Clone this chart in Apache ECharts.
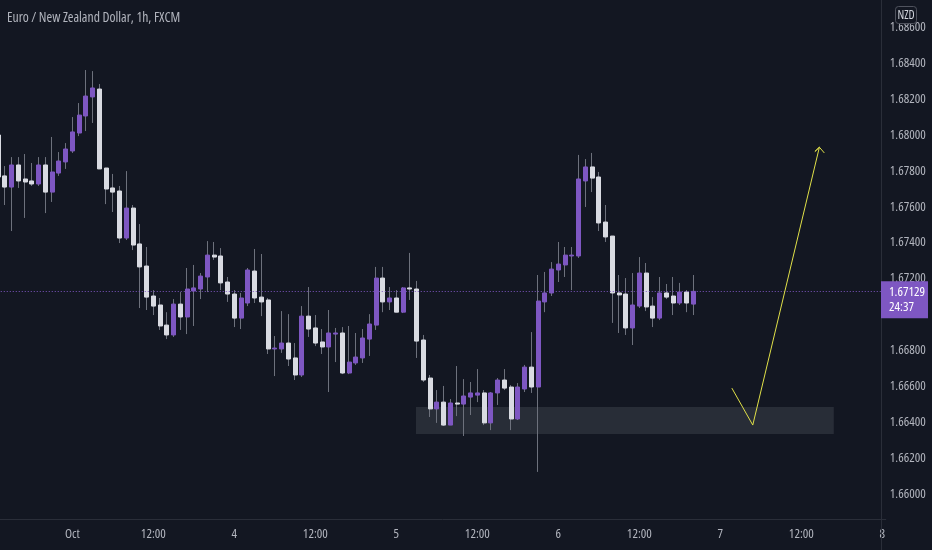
<!DOCTYPE html>
<html><head><meta charset="utf-8">
<script src="https://cdn.jsdelivr.net/npm/echarts@6/dist/echarts.min.js"></script>
<style>html,body{margin:0;padding:0;background:#131722;}#c{width:932px;height:550px;}</style>
</head><body><div id="c"></div>
<script>
const FONT = "'Open Sans','DejaVu Sans Condensed',sans-serif";
const STRETCH = 'condensed';
const titleText = 'Euro / New Zealand Dollar, 1h, FXCM';
const currency = 'NZD';
// hourly slots: first slot is Oct 2 13:00 (11 hours before Oct 3 00:00)
const firstHour = -11;
const slotCount = 132;
const categories = [];
for (let k = 0; k < slotCount; k++) {
  const h = k + firstHour;
  const day = 3 + Math.floor(h / 24);
  const hh = ((h % 24) + 24) % 24;
  categories.push('Oct ' + day + ' ' + String(hh).padStart(2, '0') + ':00');
}
const tickLabels = ['Oct','12:00','4','12:00','5','12:00','6','12:00','7','12:00','8'];

const opens = [1.68000,
1.67772,1.67710,1.67833,1.67755,1.67744,1.67727,1.67833,1.67682,1.67788,1.67850,
1.67911,1.68011,1.68106,1.68212,1.68256,1.67816,1.67705,1.67688,1.67426,1.67593,
1.67393,1.67270,1.67103,1.67053,1.66941,1.66886,1.67058,1.66986,1.67131,1.67142,
1.67209,1.67331,1.67326,1.67181,1.67114,1.66980,1.67064,1.67242,1.67097,1.67081,
1.66808,1.66808,1.66841,1.66758,1.66663,1.66991,1.66925,1.66847,1.66819,1.66891,
1.66897,1.66674,1.66730,1.66758,1.66863,1.66941,1.67203,1.67070,1.67092,1.67013,
1.67148,1.67142,1.66858,1.66646,1.66474,1.66512,1.66384,1.66507,1.66501,1.66540,
1.66551,1.66563,1.66396,1.66563,1.66635,1.66596,1.66418,1.66585,1.66707,1.66596,
1.67070,1.67120,1.67248,1.67276,1.67326,1.67326,1.67744,1.67822,1.67766,1.67515,
1.67437,1.67120,1.67114,1.66925,1.67047,1.67231,1.67047,1.66980,1.67120,1.67103,
1.67064,1.67125,1.67058];
const closes = [1.67766,
1.67710,1.67833,1.67744,1.67738,1.67727,1.67833,1.67682,1.67794,1.67855,1.67922,
1.68017,1.68111,1.68217,1.68262,1.67811,1.67699,1.67682,1.67426,1.67593,1.67387,
1.67265,1.67097,1.67047,1.66936,1.66886,1.67058,1.66986,1.67142,1.67148,1.67214,
1.67331,1.67320,1.67176,1.67114,1.66980,1.67092,1.67248,1.67092,1.67070,1.66808,
1.66813,1.66841,1.66752,1.66663,1.66991,1.66919,1.66841,1.66819,1.66897,1.66897,
1.66674,1.66735,1.66763,1.66869,1.66947,1.67203,1.67070,1.67092,1.67013,1.67148,
1.67142,1.66852,1.66635,1.66474,1.66512,1.66384,1.66507,1.66501,1.66546,1.66563,
1.66563,1.66396,1.66563,1.66635,1.66590,1.66418,1.66596,1.66707,1.66596,1.67075,
1.67120,1.67253,1.67281,1.67331,1.67331,1.67755,1.67822,1.67760,1.67510,1.67432,
1.67120,1.67109,1.66925,1.67053,1.67231,1.67042,1.66980,1.67120,1.67097,1.67064,
1.67125,1.67064,1.67129];
const lows = [1.67738,
1.67610,1.67465,1.67705,1.67538,1.67716,1.67716,1.67565,1.67627,1.67772,1.67811,
1.67900,1.67994,1.68022,1.68067,1.67811,1.67615,1.67571,1.67398,1.67415,1.67359,
1.67036,1.67025,1.66997,1.66914,1.66863,1.66875,1.66914,1.66891,1.66936,1.67086,
1.67125,1.67304,1.67136,1.67070,1.66930,1.66919,1.67047,1.67064,1.66991,1.66780,
1.66657,1.66786,1.66713,1.66635,1.66652,1.66875,1.66824,1.66780,1.66568,1.66735,
1.66668,1.66668,1.66719,1.66730,1.66769,1.66914,1.67013,1.67025,1.67013,1.67008,
1.67081,1.66758,1.66624,1.66429,1.66396,1.66379,1.66384,1.66434,1.66323,1.66440,
1.66512,1.66384,1.66356,1.66496,1.66579,1.66356,1.66412,1.66568,1.66563,1.66123,
1.67013,1.67103,1.67181,1.67209,1.67136,1.67315,1.67599,1.67682,1.67465,1.67404,
1.66953,1.66897,1.66886,1.66830,1.67036,1.67019,1.66930,1.66969,1.67086,1.66997,
1.67053,1.67013,1.66997];
const highs = [1.68017,
1.67827,1.67877,1.67877,1.67894,1.67844,1.67877,1.67877,1.67989,1.67905,1.67955,
1.68100,1.68178,1.68362,1.68356,1.68284,1.67816,1.67783,1.67716,1.67799,1.67610,
1.67504,1.67376,1.67136,1.67092,1.67013,1.67086,1.67125,1.67259,1.67276,1.67231,
1.67409,1.67404,1.67370,1.67209,1.67136,1.67120,1.67259,1.67365,1.67337,1.67092,
1.66880,1.67019,1.67002,1.66841,1.67047,1.67153,1.66997,1.66919,1.67025,1.66925,
1.66930,1.66936,1.66897,1.66919,1.67002,1.67265,1.67265,1.67153,1.67136,1.67153,
1.67343,1.67187,1.66886,1.66663,1.66579,1.66602,1.66529,1.66713,1.66640,1.66624,
1.66696,1.66579,1.66568,1.66646,1.66696,1.66607,1.66618,1.66719,1.66902,1.67220,
1.67237,1.67292,1.67404,1.67376,1.67376,1.67889,1.67866,1.67900,1.67794,1.67610,
1.67437,1.67220,1.67203,1.67231,1.67320,1.67287,1.67097,1.67209,1.67170,1.67209,
1.67176,1.67136,1.67220];

const lastPrice = 1.67129;
const countdown = '24:37';
const zoneHours = [50.9, 112.8];
const zonePrices = [1.66334, 1.66485];
const arrowHours  = [97.7, 100.8, 110.67, 110.0, 110.67, 111.4];
const arrowPrices = [1.66590, 1.66384, 1.67932, 1.67908, 1.67932, 1.67900];

const PURPLE = '#7e57c2', WHITE = '#d9dbe2', WICK = '#6d717c';
const LABEL = '#b2b5be';

const full = opens.map((o, i) => [o, closes[i], lows[i], highs[i]]);
const bodies = opens.map((o, i) => [o, closes[i], Math.min(o, closes[i]), Math.max(o, closes[i])]);
const arrowData = arrowHours.map((h, i) => [h, arrowPrices[i]]);

const chart = echarts.init(document.getElementById('c'), null, {renderer: 'canvas'});
const option = {
  backgroundColor: '#131722',
  animation: false,
  title: {
    text: titleText, left: 7, top: 11, padding: 0,
    textStyle: {color: LABEL, fontSize: 13.7, fontWeight: 'normal', fontStyle: STRETCH, fontFamily: FONT}
  },
  grid: {left: -5.25, right: 46.25, top: 0, bottom: 20.1, containLabel: false, outerBoundsMode: 'none'},
  xAxis: [{
    type: 'category', data: categories, boundaryGap: true, position: 'bottom', offset: -11,
    axisLine: {show: true, lineStyle: {color: '#2a2e39', width: 1}},
    axisTick: {show: false}, splitLine: {show: false},
    axisLabel: {
      color: LABEL, fontSize: 13, fontStyle: STRETCH, fontFamily: FONT, margin: 9,
      interval: (idx) => idx >= -firstHour && (idx + firstHour) % 12 === 0,
      formatter: (val, idx) => tickLabels[(idx + firstHour) / 12] || ''
    }
  }, {
    type: 'value', min: firstHour - 0.5, max: firstHour - 0.5 + slotCount, show: false
  }],
  yAxis: {
    type: 'value', position: 'right', min: 1.658, max: 1.687521, interval: 0.002,
    axisLine: {show: false}, axisTick: {show: false}, splitLine: {show: false},
    axisLabel: {
      color: LABEL, fontSize: 13, fontStyle: STRETCH, fontFamily: FONT, margin: 4, align: 'left',
      formatter: (v) => (v < 1.659 || v > 1.687) ? '' : v.toFixed(5)
    }
  },
  series: [
    {
      type: 'line', xAxisIndex: 1, data: [], z: 1, silent: true,
      markArea: {
        silent: true,
        itemStyle: {color: 'rgba(200,204,216,0.12)'},
        data: [[{xAxis: zoneHours[0], yAxis: zonePrices[1]}, {xAxis: zoneHours[1], yAxis: zonePrices[0]}]]
      }
    },
    {
      type: 'candlestick', xAxisIndex: 0, data: full, barWidth: 1, z: 2, silent: true,
      itemStyle: {color: WICK, color0: WICK, borderColor: WICK, borderColor0: WICK, borderWidth: 1}
    },
    {
      type: 'candlestick', xAxisIndex: 0, data: bodies, barWidth: 4.6, z: 3, silent: true,
      itemStyle: {color: PURPLE, color0: WHITE, borderColor: PURPLE, borderColor0: WHITE, borderWidth: 1},
      markLine: {
        silent: true, symbol: ['none', 'none'], label: {show: false}, precision: 6,
        lineStyle: {color: PURPLE, type: [1, 2], width: 1},
        data: [{yAxis: lastPrice}]
      }
    },
    {
      type: 'line', xAxisIndex: 1, data: arrowData, z: 5, silent: true,
      symbol: 'none', lineStyle: {color: '#e0e048', width: 1}
    }
  ]
};
chart.setOption(option);

const py = chart.convertToPixel({yAxisIndex: 0}, lastPrice);
const F13 = STRETCH + ' 13px ' + FONT;
chart.setOption({
  graphic: [
    {type: 'line', z: 50, silent: true, shape: {x1: 881.5, y1: 0, x2: 881.5, y2: 550}, style: {stroke: '#2a2e39', lineWidth: 1}},
    {type: 'rect', z: 60, silent: true, shape: {x: 881, y: py - 10, width: 47, height: 37}, style: {fill: PURPLE}},
    {type: 'text', z: 61, silent: true, x: 889, y: py + 0.5, style: {text: lastPrice.toFixed(5), fill: '#ffffff', font: F13, verticalAlign: 'middle'}},
    {type: 'text', z: 61, silent: true, x: 889, y: py + 16, style: {text: countdown, fill: '#ffffff', font: F13, verticalAlign: 'middle'}},
    {type: 'rect', z: 60, silent: true, shape: {x: 895.5, y: 6.5, width: 21, height: 17, r: 3}, style: {fill: '#131722', stroke: '#50535e', lineWidth: 1}},
    {type: 'text', z: 61, silent: true, x: 906, y: 15.5, style: {text: currency, fill: '#d1d4dc', font: STRETCH + ' 12px ' + FONT, align: 'center', verticalAlign: 'middle'}}
  ]
});
</script></body></html>
